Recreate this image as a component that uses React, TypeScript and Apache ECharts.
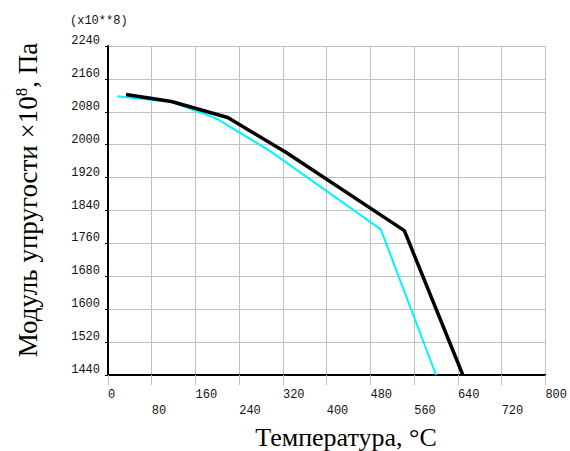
import React, { useEffect, useRef } from "react";
import * as echarts from "echarts";

const blackX = [33, 116, 219, 326, 542, 649];
const blackY = [2122, 2105, 2066, 1981, 1791, 1440];
const cyanX = [17, 116, 198, 296, 499, 600];
const cyanY = [2118, 2104, 2064, 1985, 1794, 1440];

const xMin = 0, xMax = 800, xStep = 80;
const yMin = 1440, yMax = 2240, yStep = 80;

const yTitle = "Модуль упругости ×10";
const xTitle = "Температура, °C";
const scaleNote = "(x10**8)";

export default function App() {
  const ref = useRef<HTMLDivElement>(null);
  useEffect(() => {
    if (!ref.current) return;
    const chart = echarts.init(ref.current, null, { renderer: "svg" });
    const mono = "'Liberation Mono', 'Courier New', 'DejaVu Sans Mono', monospace";
    const serif = "'Liberation Serif', 'Times New Roman', serif";
    chart.setOption({
      animation: false,
      backgroundColor: "#ffffff",
      grid: { left: 108, right: 24, top: 46, bottom: 76, containLabel: false },
      xAxis: {
        type: "value",
        min: xMin,
        max: xMax,
        interval: xStep,
        axisLine: { show: true, lineStyle: { color: "#000", width: 2 } },
        axisTick: { show: true, length: 10, lineStyle: { color: "#c0c0c0", width: 1 } },
        splitLine: { show: true, lineStyle: { color: "#c0c0c0", width: 1 } },
        axisLabel: {
          margin: 12,
          align: "left",
          fontFamily: mono,
          fontSize: 12,
          lineHeight: 16,
          color: "#111",
          showMaxLabel: true,
          showMinLabel: true,
          hideOverlap: false,
          formatter: (v: number) => (Math.round(v / xStep) % 2 === 1 ? "\n" + String(v) : String(v)),
        },
      },
      yAxis: {
        type: "value",
        min: yMin,
        max: yMax,
        interval: yStep,
        axisLine: { show: true, lineStyle: { color: "#000", width: 2 } },
        axisTick: { show: true, length: 3, lineStyle: { color: "#000", width: 1 } },
        splitLine: { show: true, lineStyle: { color: "#c0c0c0", width: 1 } },
        axisLabel: {
          margin: 8,
          fontFamily: mono,
          fontSize: 12,
          color: "#111",
          verticalAlign: "bottom",
          lineHeight: 10,
          showMaxLabel: true,
          showMinLabel: true,
          formatter: (v: number) => String(v),
        },
      },
      series: [
        {
          type: "line",
          data: cyanX.map((x, i) => [x, cyanY[i]]),
          showSymbol: false,
          lineStyle: { color: "#00f4ff", width: 2 },
          z: 3,
        },
        {
          type: "line",
          data: blackX.map((x, i) => [x, blackY[i]]),
          showSymbol: false,
          lineStyle: { color: "#000", width: 3.5 },
          z: 4,
        },
      ],
      graphic: [
        {
          type: "text",
          left: 70,
          top: 15,
          style: { text: scaleNote, fontFamily: mono, fontSize: 12, fill: "#111" },
        },
        {
          type: "text",
          x: 28,
          y: 200,
          rotation: Math.PI / 2,
          style: {
            text: `{a|${yTitle}}{s|8}{a|, Па}`,
            align: "center",
            verticalAlign: "middle",
            rich: {
              a: { fontFamily: serif, fontSize: 27, fill: "#000", lineHeight: 30 },
              s: { fontFamily: serif, fontSize: 17, fill: "#000", padding: [0, 0, 14, 0], lineHeight: 30 },
            },
          },
        },
        {
          type: "text",
          x: 346,
          y: 437,
          style: {
            text: xTitle,
            align: "center",
            verticalAlign: "middle",
            fontFamily: serif,
            fontSize: 26,
            fill: "#000",
          },
        },
      ],
    });
    return () => chart.dispose();
  }, []);
  return (
    <div
      ref={ref}
      style={{ width: 570, height: 451, position: "fixed", left: 0, top: 0, overflow: "hidden" }}
    />
  );
}
